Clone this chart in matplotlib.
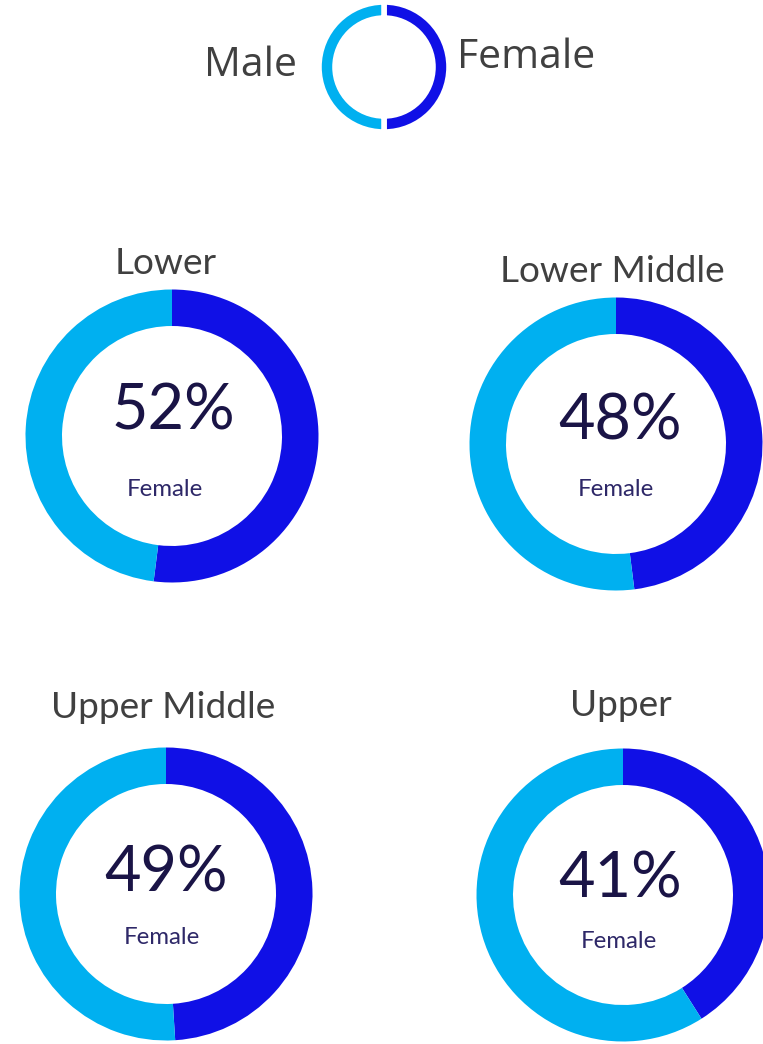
import numpy as np
import matplotlib
matplotlib.use('Agg')
import matplotlib.pyplot as plt

# data
groups = ['Lower', 'Lower Middle', 'Upper Middle', 'Upper']
female_pct = [52, 48, 49, 41]
legend_labels = ['Male', 'Female']
legend_share = [50, 50]

# styles
c_female = '#1010E6'
c_male = '#00B0F0'
c_title = '#404040'
c_pct = '#1A1446'
c_sub = '#2E2868'
W, H = 763, 1044
PX = 0.72  # points per pixel at dpi 100

# donut layout in pixel coords (x, y from top)
centers = [(172, 436), (616, 444), (166, 894), (623, 895)]
title_pos = [(166, 263), (612, 272), (163, 708), (621, 705)]
pct_pos = [(173, 412), (620, 421), (166, 873), (620, 879)]
sub_pos = [(165, 489), (616, 489), (162, 937), (619, 942)]
R_OUT = 146.5
R_IN = 110

def donut(ax, pct, cx, cy):
    ax.pie([pct, 100 - pct], colors=[c_female, c_male], startangle=90,
           counterclock=False, center=(cx, H - cy), radius=R_OUT,
           wedgeprops=dict(width=R_OUT - R_IN, linewidth=0), frame=True)

fig = plt.figure(figsize=(W / 100, H / 100), dpi=100)
ax = fig.add_axes([0, 0, 1, 1])

for i in range(len(groups)):
    cx, cy = centers[i]
    donut(ax, female_pct[i], cx, cy)
    ax.text(title_pos[i][0], H - title_pos[i][1], groups[i], ha='center', va='center',
            fontsize=37 * PX, color=c_title, family='Lato')
    ax.text(pct_pos[i][0], H - pct_pos[i][1], '%d%%' % female_pct[i], ha='center', va='center',
            fontsize=63 * PX, color=c_pct, family='Lato')
    ax.text(sub_pos[i][0], H - sub_pos[i][1], 'Female', ha='center', va='center',
            fontsize=24 * PX, color=c_sub, family='Lato')

# legend donut at the top
ax.pie(legend_share, colors=[c_female, c_male], startangle=90, counterclock=False,
       center=(384, H - 67), radius=65,
       wedgeprops=dict(width=16, edgecolor='white', linewidth=4), frame=True)
ax.text(297, H - 66, legend_labels[0], ha='right', va='center',
        fontsize=41 * PX, color=c_title, family='Open Sans')
ax.text(457, H - 58, legend_labels[1], ha='left', va='center',
        fontsize=41 * PX, color=c_title, family='Open Sans')

ax.set_xlim(0, W)
ax.set_ylim(0, H)
ax.set_aspect('equal')
ax.axis('off')
fig.savefig('out.png', dpi=100, facecolor='white')
